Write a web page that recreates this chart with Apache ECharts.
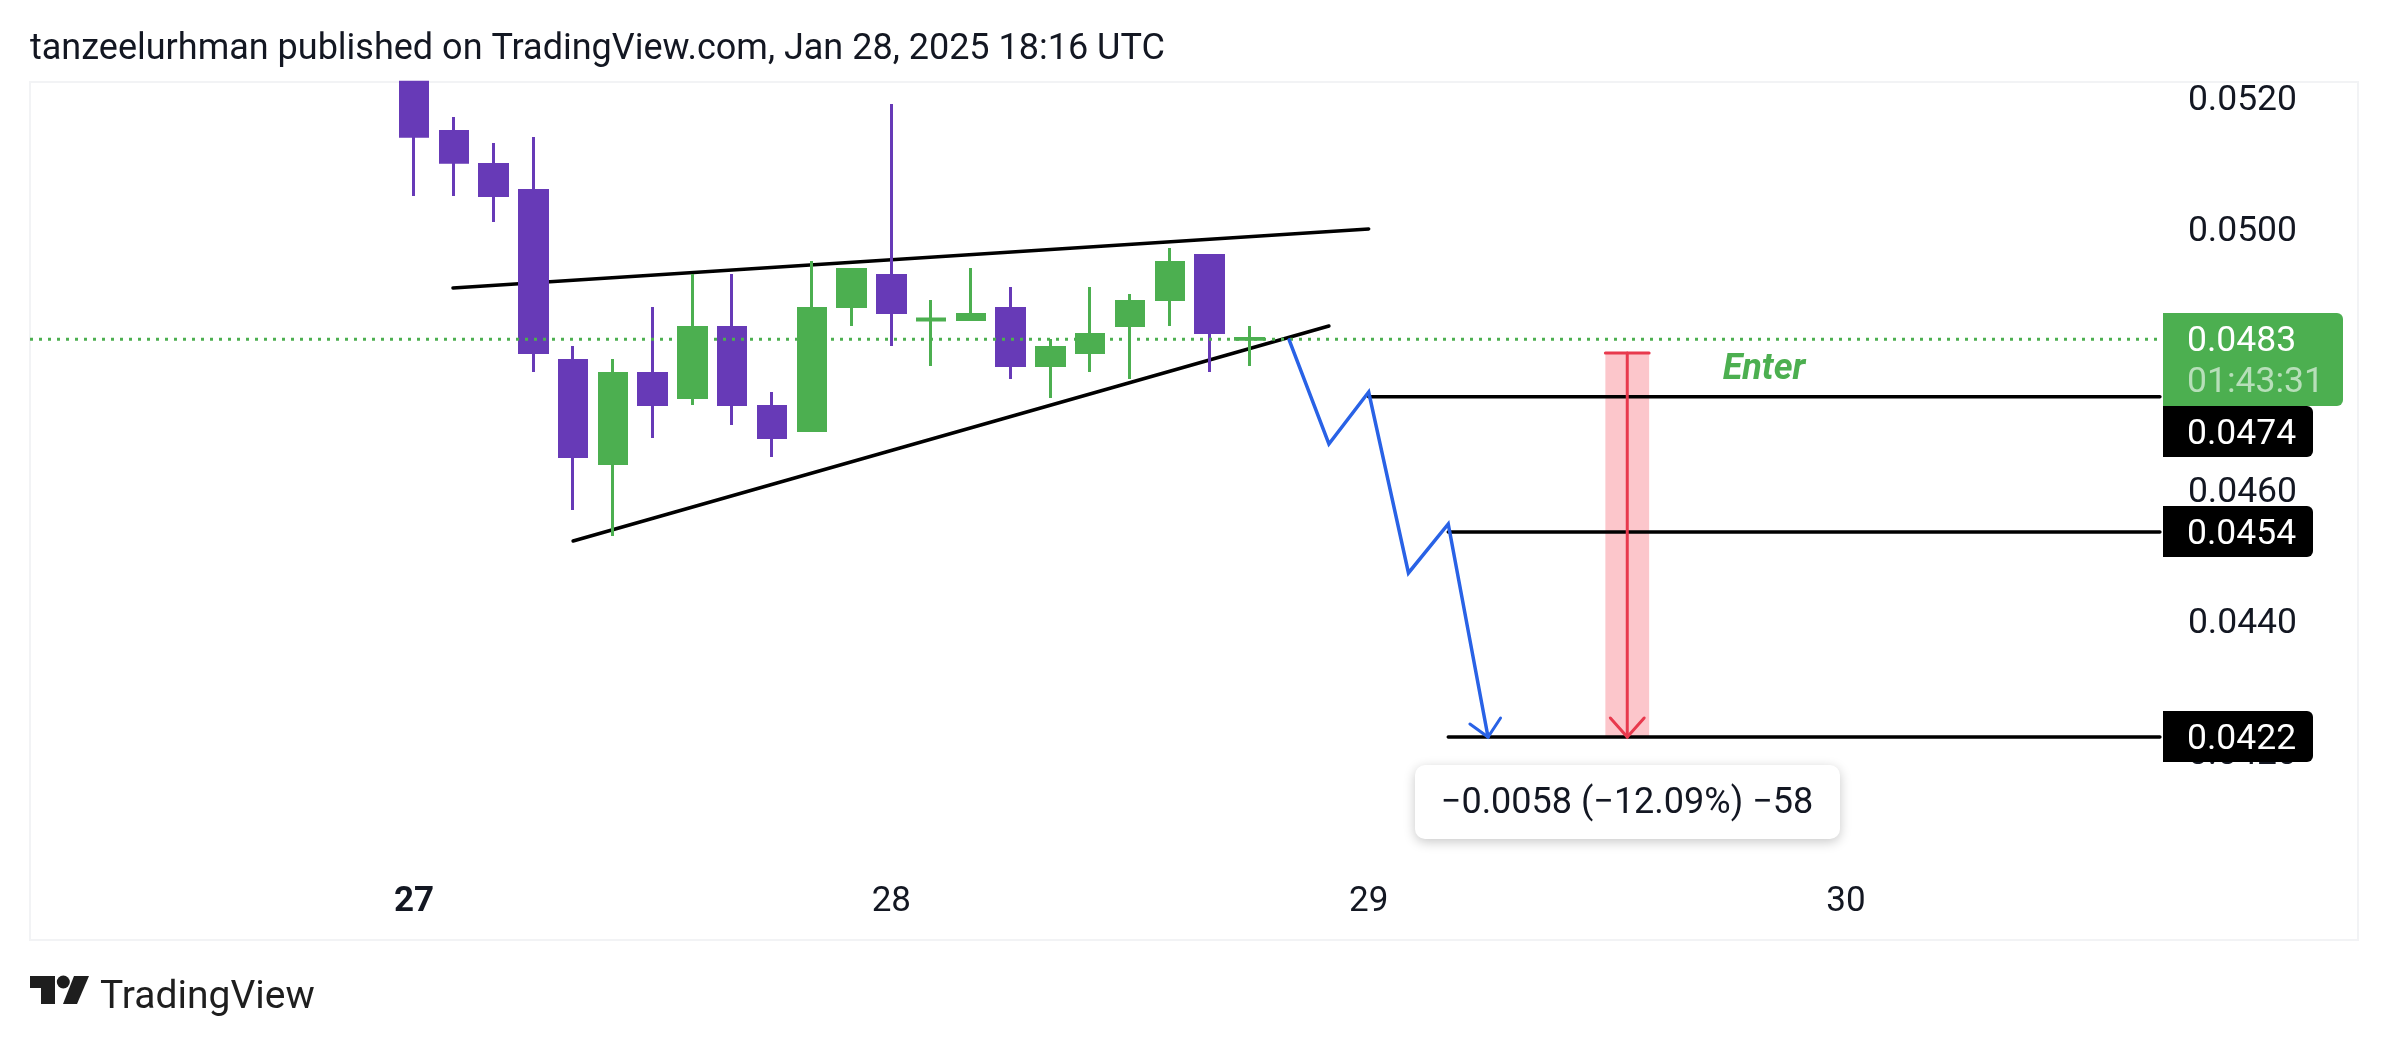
<!DOCTYPE html>
<html><head><meta charset="utf-8">
<style>html,body{margin:0;padding:0;background:#fff}#c{width:2388px;height:1044px}</style>
<script src="https://cdn.jsdelivr.net/npm/echarts@6/dist/echarts.min.js"></script>
</head><body><div id="c"></div>
<script>
// x values are hours since the 27th 00:00 (2h candles)
const candleHours = [0,2,4,6,8,10,12,14,16,18,20,22,24,26,28,30,32,34,36,38,40,42];
const opens  = [.05224,.051488,.050983,.050585,.047985,.046410,.047786,.047419,.048490,.047282,.046914,.048811,.049285,.048605,.048612,.048780,.047909,.048107,.048520,.048918,.049591,.048310];
const closes = [.051416,.051018,.050509,.048107,.046517,.047786,.047312,.048490,.047312,.046807,.048780,.049377,.048719,.048620,.048689,.047909,.048184,.048383,.048888,.049484,.048413,.048320];
const lows   = [.050501,.050501,.050104,.047809,.045698,.045301,.046800,.047304,.046998,.046509,.046891,.048513,.048207,.047901,.048589,.047702,.047411,.047809,.047702,.048513,.047809,.047901];
const highs  = [.05224,.051710,.051312,.051404,.048207,.048008,.048803,.049308,.049308,.047503,.049507,.049400,.051909,.048911,.049400,.049109,.048314,.049109,.049002,.049706,.049614,.048513];

const dayHours = [0,24,48,72];
const dayLabels = ['27','28','29','30'];
const priceTicks = [.042,.044,.046,.048,.050,.052];

const lastPrice = .04831;
const upperTrend = [[1.96,.049094],[48,.049997]];
const lowerTrend = [[8,.045224],[46,.048513]];
const bluePath = [[44,.04830],[46,.046708],[48,.047503],[50,.044735],[52,.045484],[54,.042226]];
const blueHead = [[53.09,.042425],[54,.042226],[54.63,.042517]];
const level1 = [[48,.04743],[87.78,.04743]];
const level2 = [[52,.045362],[87.78,.045362]];
const level3 = [[52,.042226],[87.78,.042226]];
const measureHours = [59.9,61,62.1];
const measureTop = .0481, measureBottom = .042226;
const redHead = [[60.15,.042517],[61,.042226],[61.85,.042517]];
const titleText = 'tanzeelurhman published on TradingView.com, Jan 28, 2025 18:16 UTC';
const measureText = '\u22120.0058 (\u221212.09%) \u221258';

const green='#4caf50', purple='#673ab7', blue='#2962e6', red='#e8394d', ink='#131722';
const font='Roboto';

function seg(data,color,width,z,extra){
  return Object.assign({type:'line',data,symbol:'none',silent:true,animation:false,z,
    lineStyle:{color,width,cap:'round',join:'miter'}},extra||{});
}
const chart=echarts.init(document.getElementById('c'),null,{renderer:'canvas'});
function tag(top,h,w,fill,rows){
  return [{type:'rect',z:100,shape:{x:2163,y:top,width:w,height:h,r:[0,6,6,0]},style:{fill}}]
   .concat(rows.map(r=>({type:'text',z:101,x:2187,y:r[1],style:{text:r[0],fill:r[2],font:'35.5px '+font,textVerticalAlign:'middle'}})));
}
chart.setOption({
  animation:false,backgroundColor:'#fff',
  grid:{left:30,right:30,top:82,bottom:104,show:true,borderColor:'#f2f3f5',borderWidth:2,backgroundColor:'transparent'},
  xAxis:{type:'value',min:-19.306,max:97.74,splitLine:{show:false},axisLine:{show:false},axisTick:{show:false},
    axisLabel:{inside:true,margin:20,customValues:dayHours,color:ink,fontFamily:font,fontSize:35,
      formatter:v=>{const s=dayLabels[dayHours.indexOf(v)];return v===0?'{b|'+s+'}':s;},
      rich:{b:{fontWeight:'bold',fontSize:35,fontFamily:font,color:ink}}}},
  yAxis:{type:'value',position:'right',min:.039121,max:.052245,splitLine:{show:false},axisLine:{show:false},axisTick:{show:false},
    axisLabel:{inside:true,margin:61,customValues:priceTicks,color:ink,fontFamily:font,fontSize:35.5,
      formatter:v=>'{a|'+v.toFixed(4)+'}',
      rich:{a:{padding:[6,0,0,0],fontSize:35.5,fontFamily:font,color:ink}}}},
  series:[
    seg(upperTrend,'#000',3.5,1),
    seg(lowerTrend,'#000',3.5,1),
    {type:'candlestick',z:2,barWidth:28,animation:false,silent:true,
     data:candleHours.map((h,i)=>[h,opens[i],closes[i],lows[i],highs[i]]),
     itemStyle:{color:green,color0:purple,borderColor:green,borderColor0:purple,borderWidth:3}},
    seg([[-19.306,lastPrice],[87.78,lastPrice]],green,3,3,{lineStyle:{color:green,width:3,type:[3,6]}}),
    seg(level1,'#000',3.5,4),seg(level2,'#000',3.5,6),seg(level3,'#000',3.5,6),
    seg([[measureHours[1],measureTop],[measureHours[1],measureBottom]],red,3,7,{
      markArea:{silent:true,itemStyle:{color:'rgba(244,67,84,0.3)'},data:[[{xAxis:measureHours[0],yAxis:measureTop},{xAxis:measureHours[2],yAxis:measureBottom}]]}}),
    seg([[measureHours[0],measureTop],[measureHours[2],measureTop]],red,3,7),
    seg(redHead,red,3,7),
    seg(bluePath,blue,3.5,8),
    seg(blueHead,blue,3,8)
  ],
  graphic:[
    {type:'text',z:50,x:30,y:50,style:{text:titleText,fill:ink,font:'36px '+font,textVerticalAlign:'middle'}},
    {type:'text',z:50,x:1764,y:370,style:{text:'Enter',fill:green,font:'italic bold 36px '+font,textAlign:'center',textVerticalAlign:'middle'}},
    {type:'rect',z:60,shape:{x:1415,y:765,width:425,height:74,r:10},style:{fill:'#fff',shadowBlur:12,shadowOffsetY:3,shadowColor:'rgba(0,0,0,0.22)'}},
    {type:'text',z:61,x:1627,y:804,style:{text:measureText,fill:ink,font:'36px '+font,textAlign:'center',textVerticalAlign:'middle'}},
    ...tag(313,93,180,green,[['0.0483',342,'#fff'],['01:43:31',383,'rgba(255,255,255,0.6)']]),
    ...tag(406,51,150,'#000',[['0.0474',435,'#fff']]),
    ...tag(506,51,150,'#000',[['0.0454',535,'#fff']]),
    ...tag(711,51,150,'#000',[['0.0422',740,'#fff']]),
    // logo
    {type:'polygon',z:50,shape:{points:[[30,976],[55,976],[55,1004],[41,1004],[41,988],[30,988]]},style:{fill:'#1e1e1e'}},
    {type:'circle',z:50,shape:{cx:63.3,cy:982,r:6.5},style:{fill:'#1e1e1e'}},
    {type:'polygon',z:50,shape:{points:[[74,976],[89,976],[77,1004],[63,1004]]},style:{fill:'#1e1e1e'}},
    {type:'text',z:50,x:100,y:998,style:{text:'TradingView',fill:'#1e1e1e',font:'39px '+font,textVerticalAlign:'middle'}}
  ]
});
</script></body></html>
